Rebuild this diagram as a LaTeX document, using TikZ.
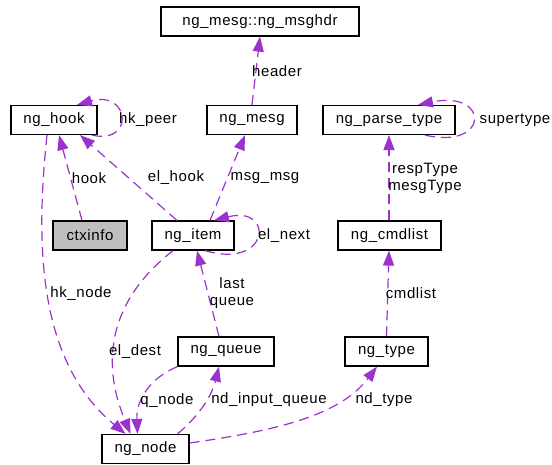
\documentclass[tikz,border=0pt]{standalone}
\usepackage{fontspec}
\setmainfont{Liberation Sans}[LetterSpace=4]
\usetikzlibrary{arrows.meta}
\definecolor{edgec}{RGB}{155,50,205}
\definecolor{ctxgray}{RGB}{191,191,191}
\begin{document}
\begin{tikzpicture}[x=1pt,y=-1pt,
  cls/.style={draw=black,line width=1.2pt,fill=white,minimum height=29pt,inner sep=0pt,font=\fontsize{15}{17}\selectfont},
  dep/.style={draw=edgec,line width=1.2pt,dash pattern=on 10pt off 6pt,-{Triangle[length=15pt,width=11pt,fill=edgec]}},
  lbl/.style={font=\fontsize{15}{17}\selectfont,inner sep=0pt,align=center,text=black}]
\useasboundingbox (0,0) rectangle (552,464);
% classes
\node[cls,minimum width=198pt] (msghdr) at (260,21.5) {ng\_mesg::ng\_msghdr};
\node[cls,minimum width=86pt] (hook) at (54,120) {ng\_hook};
\node[cls,minimum width=90pt] (mesg) at (252,120) {ng\_mesg};
\node[cls,minimum width=132pt] (ptype) at (389,120) {ng\_parse\_type};
\node[cls,minimum width=74pt,fill=ctxgray] (ctx) at (90,235.5) {ctxinfo};
\node[cls,minimum width=82pt] (item) at (193,235.5) {ng\_item};
\node[cls,minimum width=103pt] (cmdlist) at (389.5,235.5) {ng\_cmdlist};
\node[cls,minimum width=96pt] (queue) at (226,351.5) {ng\_queue};
\node[cls,minimum width=83pt] (type) at (386.5,351.5) {ng\_type};
\node[cls,minimum width=87pt] (ngnode) at (145.5,449) {ng\_node};
% connectors
\draw[dep] (mesg.north) -- (msghdr.south);
\draw[dep] ([xshift=38pt]hook.south) .. controls (135,145) and (130,90) .. ([xshift=23pt]hook.north);
\draw[dep] ([xshift=-8pt]ctx.north) -- ([xshift=5pt]hook.south);
\draw[dep] ([xshift=-16pt]item.north) -- ([xshift=26pt]hook.south);
\draw[dep] ([xshift=17pt]item.north) -- ([xshift=-7pt]mesg.south);
\draw[dep] ([xshift=12pt]item.south) .. controls (270,270) and (275,205) .. ([xshift=21pt]item.north);
\draw[dep] ([xshift=-7pt]hook.south) .. controls (36,240) and (36,360) .. ([xshift=-20pt]ngnode.north);
\draw[dep] ([xshift=-20pt]item.south) .. controls (110,300) and (100,360) .. ([xshift=-15pt]ngnode.north);
\draw[dep] ([xshift=-7pt]queue.north) -- ([xshift=4pt]item.south);
\draw[dep] (queue.south west) .. controls (150,378) and (136,400) .. ([xshift=-8pt]ngnode.north);
\draw[dep] ([xshift=32pt]ngnode.north) .. controls (200,415) and (212,395) .. ([xshift=-7pt]queue.south);
\draw[dep] ([yshift=6pt]ngnode.east) .. controls (280,430) and (340,415) .. ([xshift=-9.5pt]type.south);
\draw[dep] (type.north) -- ([xshift=-0.5pt]cmdlist.south);
\draw[dep] ([xshift=-0.5pt]cmdlist.north) -- (ptype.south);
\draw[dep] ([xshift=36pt]ptype.south) .. controls (490,150) and (490,90) .. ([xshift=29pt]ptype.north);
% labels
\node[lbl] (lheader) at (277,71) {header};
\node[lbl] (lhkpeer) at (148,120) {hk\_peer};
\node[lbl] (lhook) at (89,178) {hook};
\node[lbl] (lelhook) at (176,178) {el\_hook};
\node[lbl] (lmsgmsg) at (265,178) {msg\_msg};
\node[lbl] (lelnext) at (284,236) {el\_next};
\node[lbl] (lhknode) at (81,294) {hk\_node};
\node[lbl] (leldest) at (135,352) {el\_dest};
\node[lbl] (llast) at (232,293) {last\\queue};
\node[lbl] (lqnode) at (167,401) {q\_node};
\node[lbl] (lndq) at (269,400) {nd\_input\_queue};
\node[lbl] (lndtype) at (384,400) {nd\_type};
\node[lbl] (lcmdlist) at (411,293) {cmdlist};
\node[lbl] (lresp) at (425,178) {respType\\mesgType};
\node[lbl] (lsuper) at (515,120) {supertype};
\end{tikzpicture}
\end{document}
